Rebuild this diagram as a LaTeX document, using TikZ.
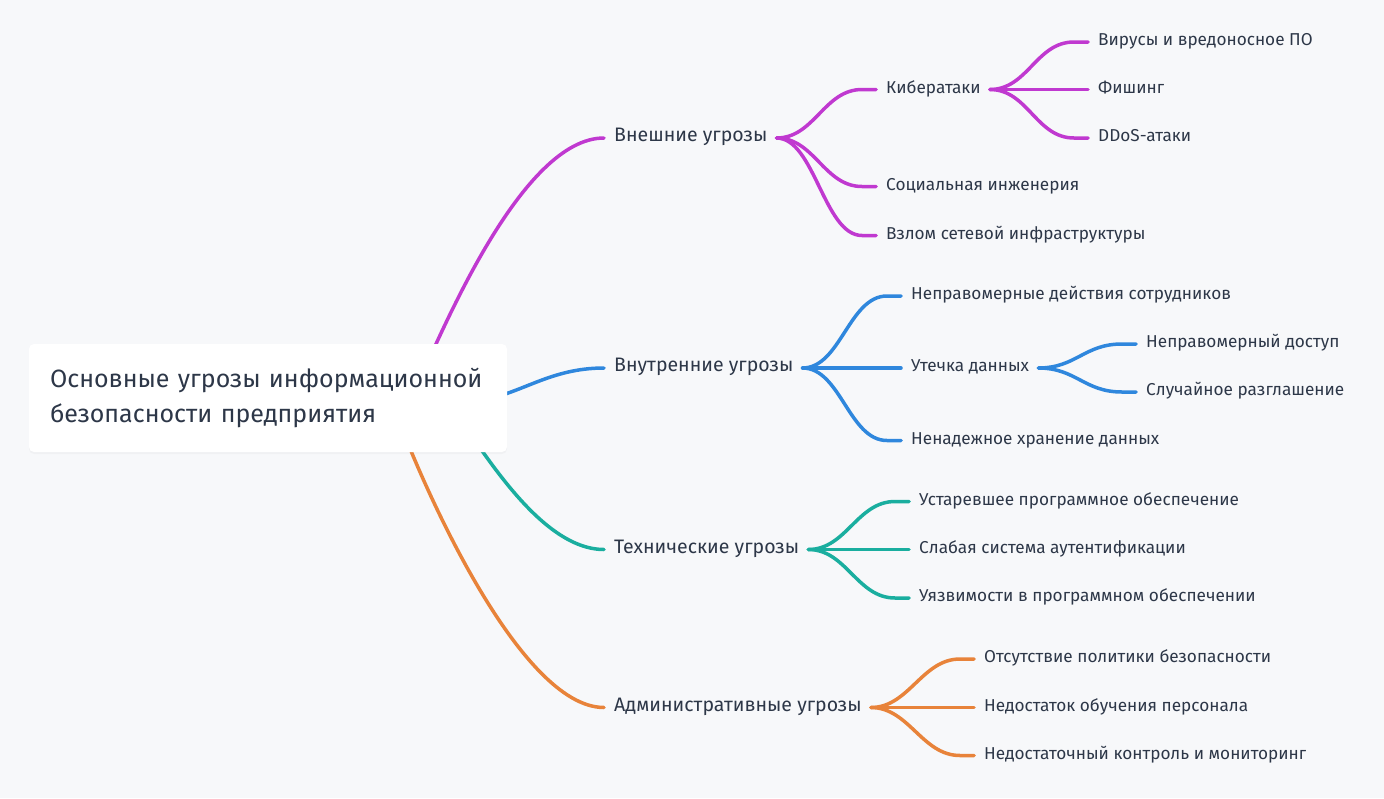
\documentclass[tikz,border=0pt]{standalone}
\usepackage{fontspec}
\setmainfont{Fira Sans}
\usetikzlibrary{shadows}
\definecolor{cpurple}{RGB}{192,57,208}
\definecolor{cblue}{RGB}{47,135,221}
\definecolor{cteal}{RGB}{26,174,159}
\definecolor{corange}{RGB}{232,131,58}
\definecolor{ctext}{RGB}{45,55,72}
\definecolor{cbg}{RGB}{247,248,250}
\pgfdeclarelayer{bgl}
\pgfdeclarelayer{linkl}
\pgfsetlayers{bgl,linkl,main}
\newcommand\mlink[3]{\draw[link,#3] ([xshift=9pt]#1.east) .. controls +(38,0) and +(-38,0) .. ([xshift=-24pt]#2.west) -- ([xshift=-10pt]#2.west);}
\begin{document}
\begin{tikzpicture}[x=1pt,y=-1pt,
  lbl/.style={anchor=west, inner sep=0pt, text=ctext, text height=0.7em, text depth=0pt},
  l1/.style={lbl, font=\fontsize{19.5}{24}\selectfont},
  l2/.style={lbl, font=\fontsize{17.2}{21}\selectfont},
  link/.style={line width=3.5pt, line cap=round},
  rootbox/.style={fill=white, rounded corners=5pt, minimum width=478pt, minimum height=108pt,
    text width=436pt, align=left, inner xsep=21pt, inner ysep=0pt, text=ctext,
    font=\fontsize{25}{35.3}\selectfont,
    drop shadow={opacity=0.05, shadow xshift=0pt, shadow yshift=-2pt}}
]
\begin{pgfonlayer}{bgl}
\fill[cbg] (0,0) rectangle (1384,798);
\end{pgfonlayer}
\useasboundingbox (0,0) rectangle (1384,798);

\node[rootbox] (root) at (268,398) {Основные угрозы информационной\\безопасности предприятия};

\node[l1] (ext) at (614,138) {Внешние угрозы};
\node[l2] (cyb) at (886,89.5) {Кибератаки};
\node[l2] (vir) at (1098,42) {Вирусы и вредоносное ПО};
\node[l2] (fis) at (1098,89.5) {Фишинг};
\node[l2] (ddos) at (1098,138) {DDoS-атаки};
\node[l2] (soc) at (886,186.5) {Социальная инженерия};
\node[l2] (vzl) at (886,235.5) {Взлом сетевой инфраструктуры};

\node[l1] (int) at (614,368) {Внутренние угрозы};
\node[l2] (npd) at (911,296) {Неправомерные действия сотрудников};
\node[l2] (leak) at (911,368) {Утечка данных};
\node[l2] (nda) at (1146,344) {Неправомерный доступ};
\node[l2] (sr) at (1146,392) {Случайное разглашение};
\node[l2] (nhd) at (911,440.5) {Ненадежное хранение данных};

\node[l1] (tech) at (614,549.5) {Технические угрозы};
\node[l2] (old) at (919,501.5) {Устаревшее программное обеспечение};
\node[l2] (weak) at (919,549.5) {Слабая система аутентификации};
\node[l2] (vuln) at (919,598) {Уязвимости в программном обеспечении};

\node[l1] (adm) at (614,707.5) {Административные угрозы};
\node[l2] (pol) at (984,659) {Отсутствие политики безопасности};
\node[l2] (edu) at (984,707.5) {Недостаток обучения персонала};
\node[l2] (mon) at (984,755.5) {Недостаточный контроль и мониторинг};

\coordinate (s1) at (412,398);
\coordinate (s2) at (480,400);
\coordinate (s3) at (450,405);
\coordinate (s4) at (395,410);

\begin{pgfonlayer}{linkl}
\draw[link,cpurple] (s1) .. controls +(30,-68) and +(-82,0) .. ([xshift=-10pt]ext.west);
\draw[link,cblue] (s2) .. controls +(40,-5) and +(-55,0) .. ([xshift=-10pt]int.west);
\draw[link,cteal] (s3) .. controls +(30,40) and +(-65,0) .. ([xshift=-10pt]tech.west);
\draw[link,corange] (s4) .. controls +(25,70) and +(-85,0) .. ([xshift=-10pt]adm.west);

\mlink{ext}{cyb}{cpurple}
\mlink{ext}{soc}{cpurple}
\mlink{ext}{vzl}{cpurple}
\mlink{cyb}{vir}{cpurple}
\mlink{cyb}{fis}{cpurple}
\mlink{cyb}{ddos}{cpurple}

\mlink{int}{npd}{cblue}
\mlink{int}{leak}{cblue}
\mlink{int}{nhd}{cblue}
\mlink{leak}{nda}{cblue}
\mlink{leak}{sr}{cblue}

\mlink{tech}{old}{cteal}
\mlink{tech}{weak}{cteal}
\mlink{tech}{vuln}{cteal}

\mlink{adm}{pol}{corange}
\mlink{adm}{edu}{corange}
\mlink{adm}{mon}{corange}
\end{pgfonlayer}
\end{tikzpicture}
\end{document}
